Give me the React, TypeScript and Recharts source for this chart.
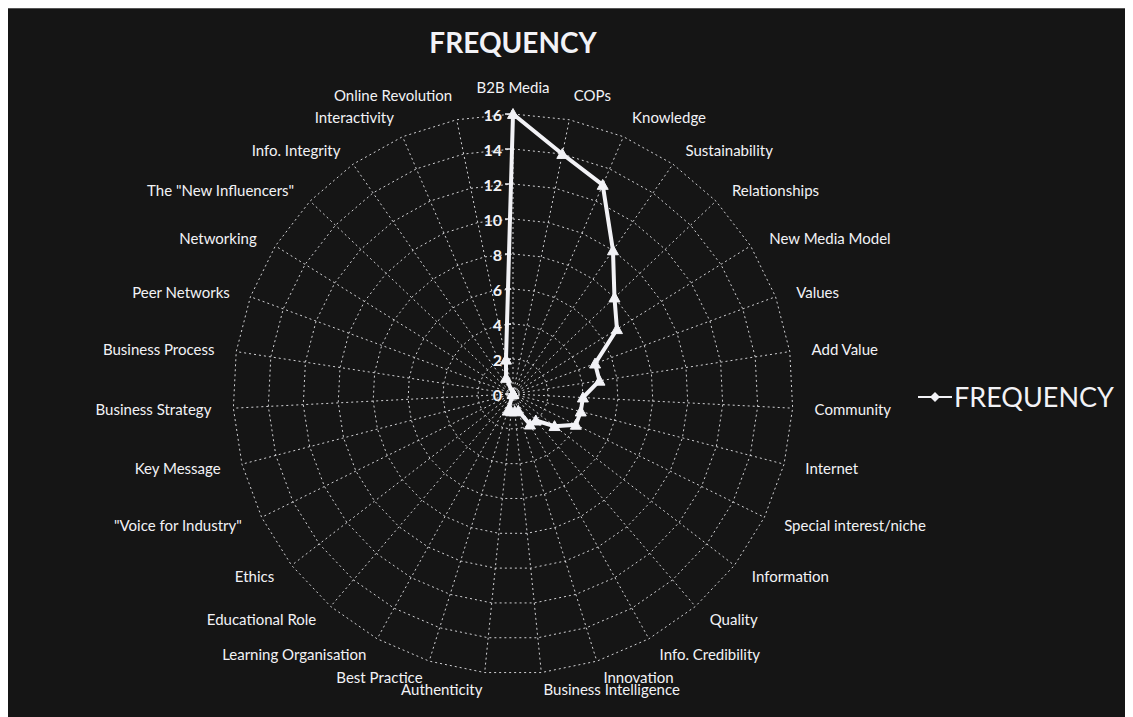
import { RadarChart, PolarGrid, PolarAngleAxis, PolarRadiusAxis, Radar, Legend } from 'recharts'

const categories = [
  'B2B Media', 'COPs', 'Knowledge', 'Sustainability', 'Relationships', 'New Media Model',
  'Values', 'Add Value', 'Community', 'Internet', 'Special interest/niche', 'Information',
  'Quality', 'Info. Credibility', 'Innovation', 'Business Intelligence', 'Authenticity',
  'Best Practice', 'Learning Organisation', 'Educational Role', 'Ethics', '"Voice for Industry"',
  'Key Message', 'Business Strategy', 'Business Process', 'Peer Networks', 'Networking',
  'The "New Influencers"', 'Info. Integrity', 'Interactivity', 'Online Revolution'
]

const frequency = [
  16, 14, 13, 10, 8, 7,
  5, 5, 4, 4, 4, 3,
  2, 2, 1, 1, 1,
  1, 0, 0, 0, 0,
  0, 0, 0, 0, 0,
  0, 0, 1, 2
]

const radiusTicks = [0, 2, 4, 6, 8, 10, 12, 14, 16]

const data = categories.map((category, i) => ({ category, frequency: frequency[i] }))

const FONT = 'Lato, "Open Sans", sans-serif'
const INK = '#f2f2f6'
const CX = 505
const CY = 385

function TriangleDot(props: any) {
  const { cx, cy } = props
  if (cx == null || cy == null) return null
  const s = 5.5
  return (
    <polygon
      points={`${cx},${cy - s} ${cx + s},${cy + s * 0.8} ${cx - s},${cy + s * 0.8}`}
      fill={INK}
      stroke={INK}
      strokeWidth={1}
    />
  )
}

// push labels outward a bit more on the sides than top/bottom, like the source
function AngleTick(props: any) {
  const { x, y, textAnchor, payload } = props
  const dx = x - CX
  const dy = y - CY
  const len = Math.sqrt(dx * dx + dy * dy) || 1
  const ux = dx / len
  const uy = dy / len
  const up = uy < 0 ? 7 + 12 * Math.pow(-uy, 8) : 9
  const nx = x + ux * 14
  const ny = y + uy * up
  return (
    <text
      x={nx}
      y={ny}
      textAnchor={textAnchor}
      dominantBaseline="central"
      fill={INK}
      fontSize={15}
      fontFamily={FONT}
    >
      {payload.value}
    </text>
  )
}

function RadiusTick(props: any) {
  const { x, y, payload } = props
  return (
    <g>
      <line x1={x - 8} y1={y} x2={x - 2} y2={y} stroke={INK} strokeWidth={1.5} />
      <text
        x={x - 11}
        y={y}
        textAnchor="end"
        dominantBaseline="central"
        fill={INK}
        fontSize={16}
        fontWeight={700}
        fontFamily={FONT}
      >
        {payload.value}
      </text>
    </g>
  )
}

function LegendContent() {
  return (
    <div style={{ display: 'flex', alignItems: 'center' }}>
      <svg width={34} height={20}>
        <line x1={0} y1={10} x2={34} y2={10} stroke={INK} strokeWidth={2} />
        <polygon points="17,5 22,10 17,15 12,10" fill={INK} />
      </svg>
      <span style={{ color: INK, fontFamily: FONT, fontSize: 27, marginLeft: 2, lineHeight: 1 }}>
        FREQUENCY
      </span>
    </div>
  )
}

export default function App() {
  return (
    <div
      style={{
        position: 'relative',
        width: 1122,
        height: 709,
        background: '#151515',
        borderTop: '1px solid #555',
        boxSizing: 'border-box'
      }}
    >
      <div
        style={{
          position: 'absolute',
          top: 16,
          left: 0,
          width: 1010,
          textAlign: 'center',
          color: INK,
          fontFamily: FONT,
          fontWeight: 700,
          fontSize: 28
        }}
      >
        FREQUENCY
      </div>
      <RadarChart
        width={1122}
        height={708}
        data={data}
        cx={CX}
        cy={CY}
        outerRadius={280}
        margin={{ top: 0, right: 0, bottom: 0, left: 0 }}
      >
        <PolarGrid
          gridType="polygon"
          stroke={INK}
          strokeOpacity={0.85}
          strokeDasharray="2 3"
        />
        <PolarAngleAxis
          dataKey="category"
          tick={<AngleTick />}
          tickLine={false}
          axisLine={false}
        />
        <PolarRadiusAxis
          angle={90}
          domain={[0, 16]}
          ticks={radiusTicks as any}
          tickCount={9}
          orientation="left"
          axisLine={false}
          tick={<RadiusTick />}
        />
        <Radar
          name="FREQUENCY"
          dataKey="frequency"
          stroke={INK}
          strokeWidth={4}
          fill="none"
          fillOpacity={0}
          dot={<TriangleDot />}
          isAnimationActive={false}
        />
        <Legend
          content={<LegendContent />}
          wrapperStyle={{ position: 'absolute', left: 910, top: 374, width: 210, bottom: 'auto' }}
        />
      </RadarChart>
    </div>
  )
}
